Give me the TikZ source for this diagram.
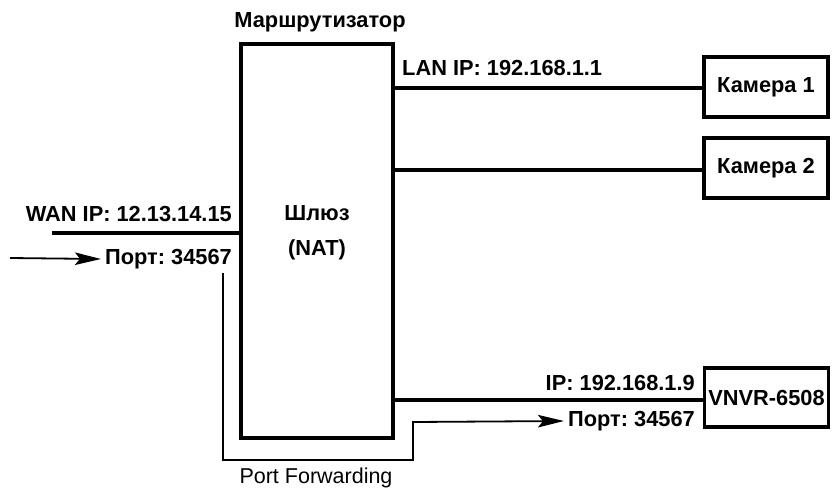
\documentclass[tikz,border=0pt]{standalone}
\usepackage{fontspec}
\setmainfont{Liberation Sans}
\usetikzlibrary{arrows.meta}
\frenchspacing
\begin{document}
\begin{tikzpicture}[x=1pt,y=-1pt,
  devbox/.style={draw,line width=3.5pt,inner sep=0pt},
  lbl/.style={font=\bfseries\fontsize{21.8}{26}\selectfont,inner sep=0pt},
  wire/.style={line width=3.5pt},
  thin/.style={line width=1.8pt},
  tip/.style={-{Stealth[length=26pt,width=12.5pt,inset=5pt]}}]
\useasboundingbox (0,0) rectangle (832,488);

% router
\node[devbox,minimum width=152pt,minimum height=394pt] (router) at (317,241) {};
\node[lbl] (rtitle) at (320,22) {Маршрутизатор};
\node[lbl] (gw) at (317,213) {Шлюз};
\node[lbl] (nat) at (317,250) {(NAT)};

% devices on the LAN side
\node[devbox,minimum width=124pt,minimum height=60pt,lbl] (cam1) at (766,87) {Камера 1};
\node[devbox,minimum width=124pt,minimum height=60pt,lbl] (cam2) at (766,168) {Камера 2};
\node[devbox,minimum width=124pt,minimum height=59pt,lbl] (nvr) at (766.5,397.5) {VNVR-6508};

\draw[wire] (router.east |- 0,88) -- (cam1.west |- 0,88);
\draw[wire] (router.east |- 0,170) -- (cam2.west |- 0,170);
\draw[wire] (router.east |- 0,400) -- (nvr.west |- 0,400);

\node[lbl,anchor=west] (lan) at (402,68) {LAN IP: 192.168.1.1};
\node[lbl,anchor=east] (nvrip) at (695,383) {IP: 192.168.1.9};
\node[lbl,anchor=east] (nvrport) at (695,421) {Порт: 34567};

% WAN side
\coordinate (wanL) at (52,233);
\draw[wire] (wanL) -- (router.west |- wanL);
\node[lbl,anchor=east] (wan) at (232,214) {WAN IP: 12.13.14.15};
\node[lbl,anchor=east] (wanport) at (232,259) {Порт: 34567};
\coordinate (inL) at (10,258);
\draw[thin,tip] (inL) -- ([xshift=-4pt]wanport.west);

% port forwarding path
\coordinate (pfA) at (223,273);
\draw[thin,tip] (pfA) -- (223,460) -- (413,460) -- (413,422) -- ([xshift=-4pt]nvrport.west);
\node[font=\fontsize{21.5}{26}\selectfont,inner sep=0pt,anchor=base] (pf) at (316,483) {Port Forwarding};
\end{tikzpicture}
\end{document}
